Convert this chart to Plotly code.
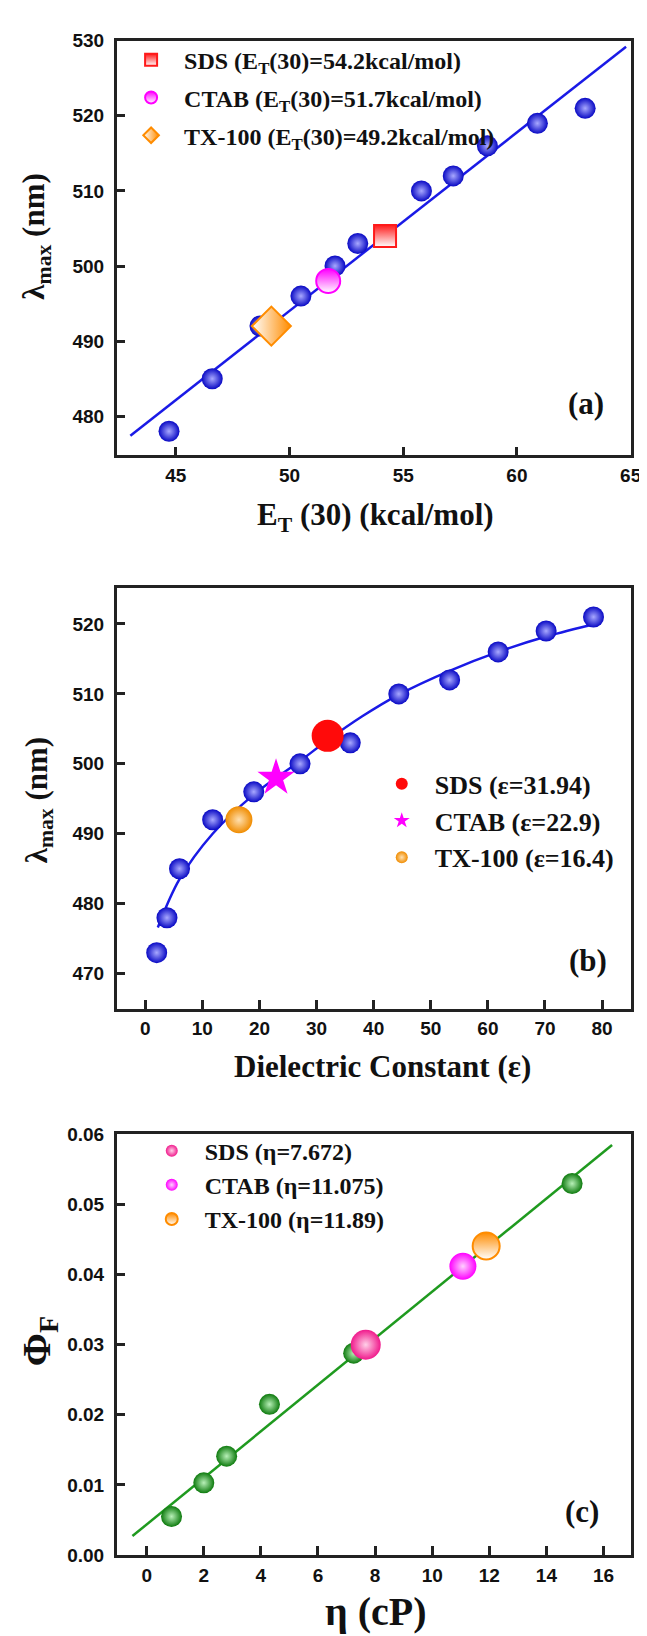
import plotly.graph_objects as go

W, H = 647, 1636

# ---------------- data ----------------
# Panel (a): lambda_max vs E_T(30)
a_x = [44.7, 46.6, 48.7, 50.5, 52.0, 53.0, 55.8, 57.2, 58.7, 60.9, 63.0]
a_y = [478, 485, 492, 496, 500, 503, 510, 512, 516, 519, 521]
a_fit_x = [43.0, 64.8]
a_fit_y = [477.4, 529.2]
a_special_names = ["SDS (E<sub>T</sub>(30)=54.2kcal/mol)",
                   "CTAB (E<sub>T</sub>(30)=51.7kcal/mol)",
                   "TX-100 (E<sub>T</sub>(30)=49.2kcal/mol)"]
a_special_x = [54.2, 51.7, 49.2]
a_special_y = [504, 498, 492]

# Panel (b): lambda_max vs dielectric constant
b_x = [2.0, 3.8, 6.0, 11.8, 19.0, 27.1, 35.9, 44.4, 53.3, 61.8, 70.2, 78.5]
b_y = [473, 478, 485, 492, 496, 500, 503, 510, 512, 516, 519, 521]
b_fit_x = [2.2, 6.0, 11.8, 19.0, 27.1, 31.8, 38.0, 44.4, 53.3, 61.8, 70.2, 79.3]
b_fit_y = [476.6, 483.5, 490.0, 495.6, 500.4, 503.3, 506.8, 509.9, 513.3, 516.0, 518.2, 520.1]
b_special_names = ["SDS (ε=31.94)", "CTAB (ε=22.9)", "TX-100 (ε=16.4)"]
b_special_x = [31.94, 22.9, 16.4]
b_special_y = [504, 498, 492]

# Panel (c): Phi_F vs viscosity
c_x = [0.87, 2.0, 2.8, 4.3, 7.25, 14.9]
c_y = [0.0055, 0.0103, 0.0141, 0.0215, 0.0288, 0.0530]
c_fit_x = [-0.5, 16.3]
c_fit_y = [0.0027, 0.0585]
c_special_names = ["SDS (η=7.672)", "CTAB (η=11.075)", "TX-100 (η=11.89)"]
c_special_x = [7.672, 11.075, 11.89]
c_special_y = [0.0300, 0.0412, 0.0441]

a_xticks = [45, 50, 55, 60, 65]
a_yticks = [480, 490, 500, 510, 520, 530]
b_xticks = [0, 10, 20, 30, 40, 50, 60, 70, 80]
b_yticks = [470, 480, 490, 500, 510, 520]
c_xticks = [0, 2, 4, 6, 8, 10, 12, 14, 16]
c_yticks = [0.00, 0.01, 0.02, 0.03, 0.04, 0.05, 0.06]


def px(x):
    return x / W


def py(y):
    return 1 - y / H


SERIF = "Liberation Serif"
SANS = "Liberation Sans"
BLUE_LINE = "#1a1ae6"
GREEN_LINE = "#1f9a1f"
SPHERE_BLUE = dict(size=21, color="#0808c4", line=dict(width=0),
                   gradient=dict(type="radial", color="#a8a8ff"))

fig = go.Figure()

# ---------- panel (a) ----------
fig.add_trace(go.Scatter(x=a_fit_x, y=a_fit_y, mode="lines", line=dict(color=BLUE_LINE, width=2.5),
                         showlegend=False, xaxis="x", yaxis="y"))
fig.add_trace(go.Scatter(x=a_x, y=a_y, mode="markers", showlegend=False, xaxis="x", yaxis="y",
                         marker=SPHERE_BLUE))
a_styles = [
    dict(symbol="square", size=22, color="#ff1a1a", line=dict(color="#ff1a1a", width=2),
         gradient=dict(type="vertical", color="#ffffff")),
    dict(symbol="circle", size=24, color="#ff00ff", line=dict(color="#ff00ff", width=2),
         gradient=dict(type="vertical", color="#ffffff")),
    dict(symbol="diamond", size=30, color="#ffffff", line=dict(color="#ff8c00", width=2),
         gradient=dict(type="horizontal", color="#ff8c00")),
]
for i in range(3):
    fig.add_trace(go.Scatter(x=[a_special_x[i]], y=[a_special_y[i]], mode="markers",
                             name=a_special_names[i], marker=a_styles[i],
                             xaxis="x", yaxis="y", legend="legend", legendgroup="a%d" % i))

# ---------- panel (b) ----------
fig.add_trace(go.Scatter(x=b_fit_x, y=b_fit_y, mode="lines",
                         line=dict(color=BLUE_LINE, width=2.5, shape="spline"),
                         showlegend=False, xaxis="x2", yaxis="y2"))
fig.add_trace(go.Scatter(x=b_x, y=b_y, mode="markers", showlegend=False, xaxis="x2", yaxis="y2",
                         marker=SPHERE_BLUE))
b_styles = [
    dict(symbol="circle", size=32, color="#ff0a0a", line=dict(width=0)),
    dict(symbol="star", size=28, color="#ff00ff", line=dict(width=0)),
    dict(symbol="circle", size=27, color="#f08c00", line=dict(width=0),
         gradient=dict(type="radial", color="#ffe0b0")),
]
for i in range(3):
    fig.add_trace(go.Scatter(x=[b_special_x[i]], y=[b_special_y[i]], mode="markers",
                             name=b_special_names[i], marker=b_styles[i],
                             xaxis="x2", yaxis="y2", legend="legend2", legendgroup="b%d" % i))

# ---------- panel (c) ----------
fig.add_trace(go.Scatter(x=c_fit_x, y=c_fit_y, mode="lines", line=dict(color=GREEN_LINE, width=2.5),
                         showlegend=False, xaxis="x3", yaxis="y3"))
fig.add_trace(go.Scatter(x=c_x, y=c_y, mode="markers", showlegend=False, xaxis="x3", yaxis="y3",
                         marker=dict(size=21, color="#0d7a0d", line=dict(width=0),
                                     gradient=dict(type="radial", color="#b8f0b8"))))
c_styles = [
    dict(symbol="circle", size=30, color="#f01a8c", line=dict(width=0),
         gradient=dict(type="radial", color="#ffd0e8")),
    dict(symbol="circle", size=27, color="#ff00ff", line=dict(width=0),
         gradient=dict(type="radial", color="#ffd0ff")),
    dict(symbol="circle", size=27, color="#ff8c00", line=dict(color="#ff8c00", width=2),
         gradient=dict(type="vertical", color="#ffffff")),
]
for i in range(3):
    fig.add_trace(go.Scatter(x=[c_special_x[i]], y=[c_special_y[i]], mode="markers",
                             name=c_special_names[i], marker=c_styles[i],
                             xaxis="x3", yaxis="y3", legend="legend3", legendgroup="c%d" % i))

# ---------- axes ----------
base = dict(showline=True, linewidth=2.5, linecolor="#222222", mirror=True,
            ticks="inside", ticklen=9, tickwidth=2.5, tickcolor="#222222",
            showgrid=False, zeroline=False,
            tickfont=dict(family=SANS, size=19, color="#111111", weight="bold"))
xc = dict(base, ticklabelstandoff=1)
yc = dict(base, ticklabelstandoff=6)

xdom = [px(110.6), px(633.4)]

fig.update_layout(
    xaxis=dict(domain=xdom, anchor="y", range=[42.4, 65], tickvals=a_xticks, **xc),
    yaxis=dict(domain=[py(443), py(23)], anchor="x", range=[474.8, 530], tickvals=a_yticks, **yc),
    xaxis2=dict(domain=xdom, anchor="y2", range=[-5, 85], tickvals=b_xticks, **xc),
    yaxis2=dict(domain=[py(1003.5), py(577)], anchor="x2", range=[465, 525.2], tickvals=b_yticks, **yc),
    xaxis3=dict(domain=xdom, anchor="y3", range=[-1.05, 16.95], tickvals=c_xticks, **xc),
    yaxis3=dict(domain=[py(1557), py(1131)], anchor="x3", range=[0, 0.06], tickvals=c_yticks,
                tickformat=".2f", **yc),
)

leg_common = dict(xanchor="left", yanchor="top", bgcolor="rgba(0,0,0,0)", borderwidth=0,
                  itemsizing="constant", itemwidth=56, traceorder="grouped")
fig.update_layout(
    legend=dict(x=px(112), y=py(20), tracegroupgap=3.5,
                font=dict(family=SERIF, size=24, color="#111111", weight="bold"), **leg_common),
    legend2=dict(x=px(367), y=py(752), tracegroupgap=0,
                 font=dict(family=SERIF, size=26, color="#111111", weight="bold"), **leg_common),
    legend3=dict(x=px(133), y=py(1125), tracegroupgap=0,
                 font=dict(family=SERIF, size=24, color="#111111", weight="bold"), **leg_common),
)

title_font = dict(family=SERIF, size=31, color="#111111", weight="bold")
big_font = dict(family=SERIF, size=40, color="#111111", weight="bold")
annos = [
    # x titles
    dict(text="E<sub>T</sub> (30) (kcal/mol)", x=px(374), y=py(505), font=title_font),
    dict(text="Dielectric Constant (ε)", x=px(381), y=py(1062), font=title_font),
    dict(text="η (cP)", x=px(374), y=py(1614), font=big_font),
    # y titles
    dict(text="λ<sub>max</sub> (nm)", x=px(29), y=py(222), textangle=-90, font=title_font),
    dict(text="λ<sub>max</sub> (nm)", x=px(31), y=py(792), textangle=-90, font=title_font),
    dict(text="Φ<sub>F</sub>", x=px(31), y=py(1340), textangle=-90, font=big_font),
    # panel labels
    dict(text="(a)", x=px(588), y=py(391), font=title_font),
    dict(text="(b)", x=px(590), y=py(955), font=title_font),
    dict(text="(c)", x=px(584), y=py(1513), font=title_font),
]
for a in annos:
    a.update(xref="paper", yref="paper", showarrow=False, xanchor="center", yanchor="middle")

fig.update_layout(
    annotations=annos,
    width=W, height=H,
    margin=dict(l=0, r=0, t=0, b=0),
    paper_bgcolor="white", plot_bgcolor="white",
)

fig.write_html("out.html")
